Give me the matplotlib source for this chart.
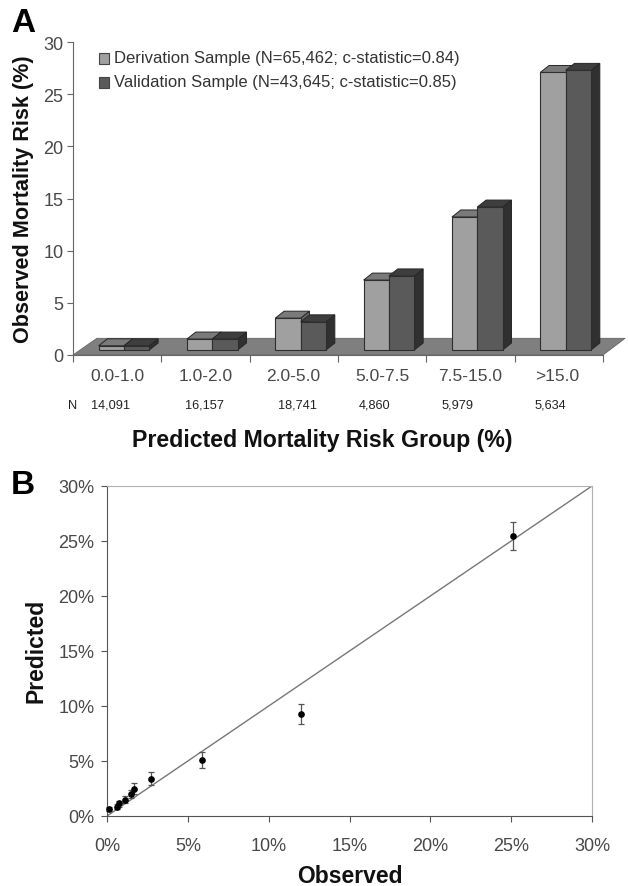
import matplotlib
matplotlib.use('Agg')
import matplotlib.pyplot as plt
from matplotlib.patches import Polygon, Rectangle

W, H = 628, 887

# panel A
groups = ['0.0-1.0', '1.0-2.0', '2.0-5.0', '5.0-7.5', '7.5-15.0', '>15.0']
counts = ['14,091', '16,157', '18,741', '4,860', '5,979', '5,634']
derivation = [0.4, 1.05, 3.05, 6.7, 12.75, 26.6]
validation = [0.4, 1.05, 2.7, 7.1, 13.7, 26.8]
legend_labels = ['Derivation Sample (N=65,462; c-statistic=0.84)',
                 'Validation Sample (N=43,645; c-statistic=0.85)']

# panel B
observed = [0.12, 0.6, 0.77, 1.09, 1.5, 1.7, 2.7, 5.88, 12.0, 25.1]
predicted = [0.63, 0.85, 1.15, 1.5, 1.96, 2.5, 3.4, 5.1, 9.25, 25.5]
pred_low = [0.45, 0.6, 0.85, 1.15, 1.6, 2.0, 2.8, 4.4, 8.4, 24.2]
pred_high = [0.8, 1.1, 1.4, 1.85, 2.4, 3.0, 3.96, 5.8, 10.15, 26.7]

plt.rcParams['font.family'] = ['Liberation Sans', 'DejaVu Sans']
GREY = '#484848'
fig = plt.figure(figsize=(W / 100, H / 100), dpi=100)


def axes_px(left, top, right, bottom):
    return fig.add_axes([left / W, 1 - bottom / H, (right - left) / W, (bottom - top) / H])


def put(x, y, s, **kw):
    kw.setdefault('ha', 'center')
    kw.setdefault('va', 'center')
    fig.text(x / W, 1 - y / H, s, **kw)


# ---- A ----
ax = axes_px(73, 43, 603, 356)
ax.set_xlim(0, 6)
ax.set_ylim(0, 30)
base = 0.48
bar_w = 0.287
dx = 0.1
dy = 0.67


def bar3d(x, val, front, top, side):
    y0, y1 = base, base + val
    ax.add_patch(Polygon([(x + bar_w, y0), (x + bar_w + dx, y0 + dy), (x + bar_w + dx, y1 + dy),
                          (x + bar_w, y1)], fc=side, ec='#262626', lw=0.7, clip_on=False, zorder=3))
    ax.add_patch(Polygon([(x, y1), (x + dx, y1 + dy), (x + bar_w + dx, y1 + dy), (x + bar_w, y1)],
                         fc=top, ec='#262626', lw=0.7, clip_on=False, zorder=3))
    ax.bar(x, val, bar_w, bottom=y0, align='edge', color=front, edgecolor='#2e2e2e', lw=0.8,
           zorder=3, clip_on=False)


ax.add_patch(Polygon([(0, 0), (0.27, 1.6), (6.25, 1.6), (6, 0)], fc='#7f7f7f', ec='#666666', lw=0.6,
                     clip_on=False, zorder=1))
for i in range(len(groups)):
    bar3d(i + 0.29, derivation[i], '#a0a0a0', '#7a7a7a', '#6a6a6a')
    bar3d(i + 0.29 + bar_w, validation[i], '#5a5a5a', '#3e3e3e', '#303030')

ax.spines['top'].set_visible(False)
ax.spines['right'].set_visible(False)
ax.spines['left'].set_color('#666666')
ax.spines['bottom'].set_color('#666666')
ax.set_yticks(range(0, 31, 5))
ax.set_xticks(range(7))
ax.set_xticklabels([])
ax.tick_params(axis='y', labelsize=13, labelcolor=GREY, color='#666666', length=4, pad=3)
ax.tick_params(axis='x', color='#666666', length=5)

for cx, s in zip([117, 206, 293, 382, 470, 557], groups):
    put(cx, 377, s, fontsize=12.5, color=GREY)
put(73, 406, 'N', fontsize=9.2, color='#222222')
for cx, s in zip([111, 204, 297, 375, 458, 550], counts):
    put(cx, 406, s, fontsize=9.2, color='#222222')
put(322, 441, 'Predicted Mortality Risk Group (%)', fontsize=16.7, fontweight='bold', color='#111111')
put(24, 199, 'Observed Mortality Risk (%)', fontsize=15.6, fontweight='bold', color='#111111', rotation=90)
put(23, 23, 'A', fontsize=24, fontweight='bold', color='black')
put(23, 486, 'B', fontsize=24, fontweight='bold', color='black')

for y, label, col in zip([59, 83], legend_labels, ['#a0a0a0', '#5a5a5a']):
    fig.add_artist(Rectangle((99 / W, 1 - (y + 5.5) / H), 10 / W, 11 / H, fc=col, ec='#444444', lw=0.8,
                             transform=fig.transFigure))
    put(114, y, label, ha='left', fontsize=12, color='#333333')

# ---- B ----
bx = axes_px(107, 487, 592, 817)
bx.set_xlim(0, 30)
bx.set_ylim(0, 30)
bx.plot([0, 30], [0, 30], color='#777777', lw=1, zorder=2)
yerr = [[p - l for p, l in zip(predicted, pred_low)], [h - p for p, h in zip(predicted, pred_high)]]
bx.errorbar(observed, predicted, yerr=yerr, fmt='o', ms=3.8, color='black', ecolor='#555555', elinewidth=0.9,
            capsize=2.5, capthick=0.9, zorder=3, clip_on=False)
for side in ['top', 'right']:
    bx.spines[side].set_color('#b0b0b0')
for side in ['left', 'bottom']:
    bx.spines[side].set_color('#555555')
ticks = range(0, 31, 5)
bx.set_xticks(ticks)
bx.set_yticks(ticks)
bx.set_xticklabels([f'{t}%' for t in ticks])
bx.set_yticklabels([f'{t}%' for t in ticks])
bx.tick_params(axis='both', labelsize=13, labelcolor=GREY, color='#555555', length=4)
bx.tick_params(axis='x', pad=11)
bx.tick_params(axis='y', pad=5)

put(350, 877, 'Observed', fontsize=16.5, fontweight='bold', color='#111111')
put(36, 651, 'Predicted', fontsize=16.5, fontweight='bold', color='#111111', rotation=90)

fig.savefig('out.png', dpi=100)
